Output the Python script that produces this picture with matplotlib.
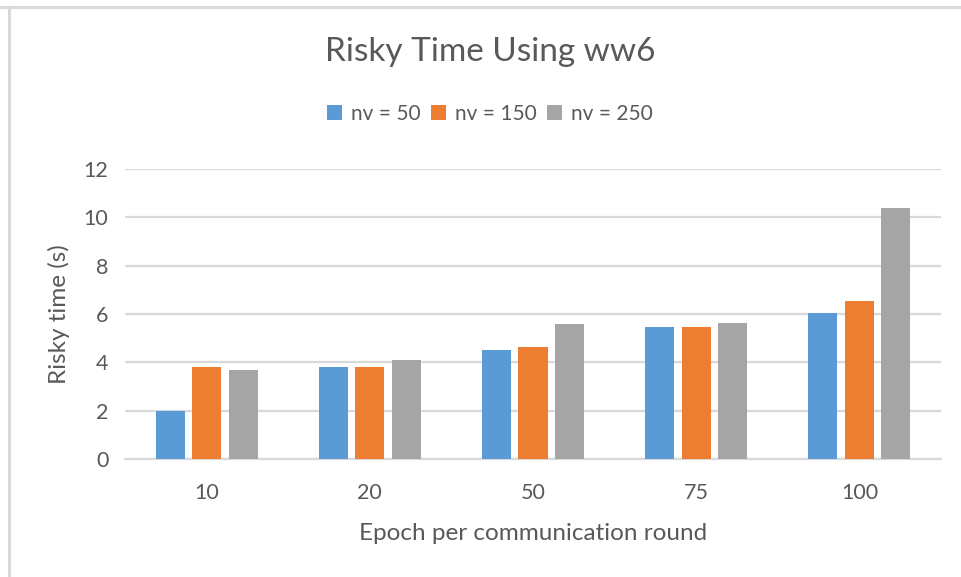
import numpy as np
import matplotlib
matplotlib.use("Agg")
import matplotlib.pyplot as plt
from matplotlib.patches import Patch
from matplotlib.lines import Line2D

plt.rcParams["font.family"] = ["Lato", "DejaVu Sans"]

# data
categories = ["10", "20", "50", "75", "100"]
series_names = ["nv = 50", "nv = 150", "nv = 250"]
nv50 = [1.99, 3.82, 4.51, 5.47, 6.05]
nv150 = [3.82, 3.82, 4.62, 5.47, 6.52]
nv250 = [3.67, 4.08, 5.57, 5.63, 10.40]
yticks = [0, 2, 4, 6, 8, 10, 12]

colors = ["#5B9BD5", "#ED7D31", "#A5A5A5"]
txt = "#595959"
grid = "#D9D9D9"

W, H = 961, 577
fig = plt.figure(figsize=(W/100, H/100), dpi=100)
ax = fig.add_axes([125/W, 1-459/H, (941-125)/W, (459-169)/H])

x = np.arange(len(categories))
offs = [-0.224, 0.0, 0.224]
bw = 0.178
for vals, off, c in zip([nv50, nv150, nv250], offs, colors):
    ax.bar(x + off, vals, width=bw, color=c, zorder=3)

ax.set_xlim(-0.5, len(categories) - 0.5)
ax.set_ylim(0, 12)
ax.set_yticks(yticks)
ax.set_xticks(x)
ax.set_xticklabels(categories)
ax.yaxis.grid(True, color=grid, linewidth=1.6, zorder=0)
ax.set_axisbelow(True)
for s in ["top", "right", "left"]:
    ax.spines[s].set_visible(False)
ax.spines["bottom"].set_color(grid)
ax.spines["bottom"].set_linewidth(1.6)
ax.tick_params(length=0, labelcolor=txt, labelsize=15.5)
ax.tick_params(axis="x", pad=17)
ax.tick_params(axis="y", pad=12)

ax.set_xlabel("Epoch per communication round", color=txt, fontsize=17.5, labelpad=15)
ax.set_ylabel("Risky time (s)", color=txt, fontsize=17.5, labelpad=10)

fig.text(490/W, 1-52/H, "Risky Time Using ww6", ha="center", va="center",
         color=txt, fontsize=24)

handles = [Patch(facecolor=c, edgecolor="none") for c in colors]
fig.legend(handles, series_names, loc="center", bbox_to_anchor=(490/W, 1-114/H),
           ncol=3, frameon=False, fontsize=15, labelcolor=txt,
           handlelength=0.7, handleheight=0.7, handletextpad=0.45,
           columnspacing=0.5)

# light frame around the chart area
fig.add_artist(Line2D([0, 1], [1-6.5/H, 1-6.5/H], color=grid, linewidth=2.2))
fig.add_artist(Line2D([9/W, 9/W], [0, 1-6.5/H], color=grid, linewidth=2.2))

fig.savefig("out.png", dpi=100)
